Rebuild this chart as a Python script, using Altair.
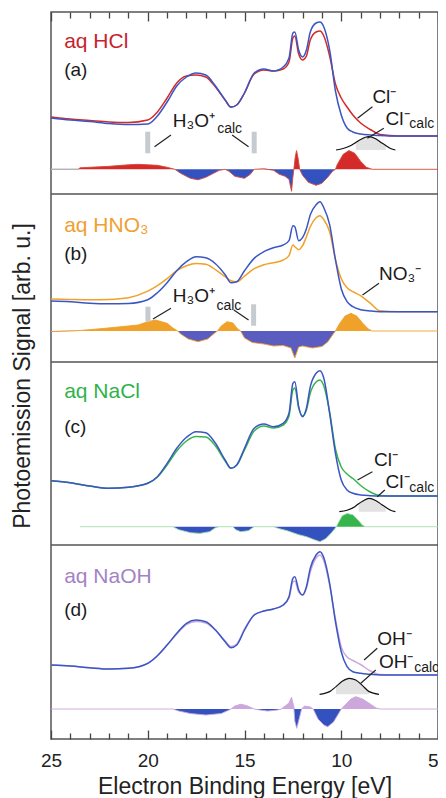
import altair as alt
import pandas as pd

# ---------------- data ----------------
E_GRID = [25, 24, 23, 22, 21, 20, 19.5, 19, 18.5, 18, 17.5, 17, 16.5, 16, 15.7,
          15.4, 15, 14.5, 14, 13.5, 13, 12.7, 12.5, 12.4, 12.2, 12.0, 11.8, 11.6,
          11.3, 11.1, 10.9, 10.6, 10.3, 10.0, 9.7, 9.4, 9.0, 8.5, 8.0, 7.0, 5.0]

WATER_A = [18, 16, 14.5, 12.5, 11.5, 12, 20, 34, 50, 59, 63, 61, 50, 36, 28.7, 31, 43, 63, 67, 65,
           69, 78, 103, 104, 86, 79, 86, 104, 113, 114, 109, 86, 45, 21, 8, 4, 2, 1, 0.5, 0, 0]
HCL = [19, 17, 15.5, 14, 13.5, 16, 24, 38, 53, 60, 61, 59, 49, 36, 29, 31, 43, 62, 66, 65,
       67, 74, 98, 100, 82, 76, 80, 96, 104, 105, 100, 80, 52, 38, 29, 21, 13, 6.5, 1.5, 0, 0]
WATER_B = [10.7, 10, 8.5, 8, 8.3, 12, 19, 29, 41, 50, 55, 54, 48, 37, 29, 30, 41, 53.3, 60, 64,
           66.7, 71, 86, 85, 71, 74, 83, 97, 107, 110, 104, 87, 52, 23, 10, 5, 2, 0.7, 0, 0, 0]
HNO3 = [12.7, 12.3, 12, 12.3, 14, 20.5, 26, 33, 41, 46, 48.3, 47.5, 42, 35, 31, 30, 35.5, 43, 47, 49,
        51.7, 56, 66.7, 65, 62, 66, 75, 85, 94, 96, 92, 80, 52, 33, 24, 20, 16, 8.5, 1, 0, 0]
WATER_C = [15.3, 13.3, 10, 7.7, 8.7, 12.7, 19.3, 32.7, 47.7, 58.7, 64.3, 63.3, 52.7, 36, 27.7, 31, 47.7, 67.7, 72, 69.3,
           72.7, 82.7, 112.7, 114.3, 89.3, 79.3, 87.7, 109.3, 122.7, 125.3, 117.7, 82.7, 42.7, 16, 6, 2.7, 1, 0.3, 0, 0, 0]
NACL = [15.3, 13.3, 10, 7.7, 8.7, 12.7, 19, 31, 45, 55, 59.5, 59, 50, 35, 27.7, 31, 46, 65, 70, 68,
        71, 80, 106, 108, 88, 80, 86, 103, 114, 116, 110, 84, 47, 29, 22, 17.5, 10.5, 4, 0.5, 0, 0]
WATER_D = [10, 9, 7.3, 6, 6.7, 11.7, 19.3, 30, 41.7, 51.7, 55, 53.3, 45, 33.3, 27.3, 30, 45, 60, 64, 66,
           70, 78.3, 96.7, 98.3, 85, 80, 88.3, 106.7, 120, 123.3, 117.3, 91.7, 53.3, 23.3, 8.3, 3.3, 1.7, 0.7, 0, 0, 0]
NAOH = [10, 9, 7.3, 6, 6.7, 11.7, 19.3, 30, 41, 50.5, 53.5, 52, 45, 34, 28.5, 31, 46, 60, 64, 66,
        70, 77, 93, 94, 83, 80, 87, 103, 117, 120, 114, 90, 56, 28, 18, 14.5, 10.5, 4, 0.5, 0, 0]

# difference spectra (solution minus water)
DIFF_A_E = [23.6, 23.5, 22, 21, 20.5, 19.5, 19.0, 18.6, 18.3, 17.8, 17.4, 17.0, 16.6, 16.3, 16.0, 15.8,
            15.5, 15.0, 14.7, 14.5, 14.0, 13.5, 13.2, 12.9, 12.7, 12.57, 12.5, 12.45, 12.38, 12.31, 12.22,
            12.15, 12.0, 11.7, 11.3, 11.0, 10.7, 10.45, 10.3, 10.2, 9.9, 9.6, 9.3, 9.0, 8.7, 8.4, 5]
DIFF_A = [0, 1.5, 3, 4.5, 5, 4, 2, 0, -4, -9, -10.5, -8, -4, -1, 0, -2,
          -7, -9, -5, 0, 0.5, -1, -5, -7, -10, -22, -8, 0, 12, 18.7, 10,
          0, -6, -13, -16, -14, -8, -2, 0, 5, 15, 18.7, 16, 8, 2, 0, 0]
DIFF_B_E = [25, 23.5, 22.2, 20.5, 20.0, 19.6, 19.0, 18.7, 18.45, 18.3, 17.9, 17.4, 16.9, 16.6, 16.4, 16.2,
            15.9, 15.6, 15.35, 15.2, 15.0, 14.6, 14.0, 13.5, 13.0, 12.6, 12.4, 12.2, 12.0, 11.5, 11.0,
            10.7, 10.45, 10.3, 10.1, 9.8, 9.5, 9.2, 8.9, 8.6, 8.4, 5]
DIFF_B = [-0.5, 0.5, 2.7, 6, 9.3, 11, 7.7, 3, 0, -3, -8, -10.7, -8, -3, 0, 5,
          9.3, 8, 2, 0, -7, -11.5, -13, -15, -14.5, -17, -27, -16, -15, -17, -15.5,
          -11, -4, 0, 7, 15, 17.7, 15, 8, 2, 0, 0]
DIFF_C_E = [23.5, 18.7, 18.4, 17.8, 17.3, 16.8, 16.5, 16.3, 15.6, 15.45, 15.2, 14.8, 14.5, 13.5, 13.2, 12.8,
            12.5, 12.2, 11.8, 11.4, 11.1, 10.8, 10.5, 10.25, 10.15, 9.95, 9.7, 9.4, 9.1, 8.9, 8.75, 5]
DIFF_C = [0, 0, -3, -6, -6.7, -5, -1, 0, 0, -3, -5, -4, 0, 0, -2, -4,
          -6, -8, -10, -13, -15, -12, -6, 0, 4, 11, 13.3, 12, 6, 1.5, 0, 0]
DIFF_D_E = [25, 18.7, 18.4, 17.8, 17.0, 16.2, 15.8, 15.7, 15.5, 15.2, 14.9, 14.5, 14.2, 13.8, 13.3, 13.1,
            12.9, 12.7, 12.57, 12.45, 12.4, 12.3, 12.15, 12.05, 11.9, 11.6, 11.45, 11.2, 10.9, 10.7, 10.4,
            10.15, 10.0, 9.8, 9.5, 9.25, 8.9, 8.5, 8.2, 8.0, 5]
DIFF_D = [0, 0, -2, -4.5, -6, -4.5, -1, 0, 3, 4.7, 3.5, 0, -1, -2, -1, 0,
          3, 6, 11.7, 2, -12, -19.3, -8, 0, 3, 2, 0, -10, -16, -17.7, -13,
          -5, 0, 4, 10, 12.3, 10, 5, 1, 0, 0]

# calculated anion peaks
CALC_A_E = [10.27, 9.9, 9.5, 9.25, 9.0, 8.6, 8.2, 7.9, 7.7, 7.45, 7.2]
CALC_A = [0, 1.5, 4.5, 7.5, 10.5, 13.3, 11, 7, 4.5, 1.5, 0]
CALC_C_E = [10.1, 9.7, 9.3, 9.1, 8.9, 8.56, 8.2, 7.9, 7.7, 7.45, 7.2]
CALC_C = [0, 1.5, 5, 8, 10.5, 13.4, 11, 7, 4.5, 1.5, 0]
CALC_D_E = [11.12, 10.6, 10.27, 9.93, 9.59, 9.25, 8.9, 8.56, 8.05]
CALC_D = [0, 2.7, 7.7, 13.3, 16, 14.3, 8.7, 2.7, 0]

MAJOR_TICKS = [25, 20, 15, 10, 5]
MINOR_TICKS = [e for e in range(6, 25) if e % 5]

# ---------------- layout / style ----------------
FONT = "Liberation Sans"
BLUE = "#3a56c5"
BLACK = "#1a1a1a"
PANELS = {
    "a": dict(base=603, dbase=569.7, sol=HCL, water=WATER_A, col="#d42a2a", tcol="#c8232c",
              neg="#3352c0", dline="#d64a3a", dE=DIFF_A_E, d=DIFF_A),
    "b": dict(base=427.3, dbase=408, sol=HNO3, water=WATER_B, col="#f0a12a", tcol="#f0a030",
              neg="#5a5cc0", dline="#f0a12a", dE=DIFF_B_E, d=DIFF_B),
    "c": dict(base=243, dbase=212.3, sol=NACL, water=WATER_C, col="#36b54c", tcol="#2fb34a",
              neg="#3352c0", dline="#a8dcae", dE=DIFF_C_E, d=DIFF_C),
    "d": dict(base=64, dbase=30, sol=NAOH, water=WATER_D, col="#cda7dc", tcol="#a582c4",
              neg="#3352c0", dline="#c8a6dc", dE=DIFF_D_E, d=DIFF_D),
}
SEPARATORS = [545, 377, 194]
CALC = {"a": (CALC_A_E, CALC_A, 589, 7.7, 9.25),
        "c": (CALC_C_E, CALC_C, 227.3, 7.7, 9.1),
        "d": (CALC_D_E, CALC_D, 44.7, 8.56, 10.27)}

rows_sol, rows_w, rows_d = [], [], []
for p, P in PANELS.items():
    for e, s, w in zip(E_GRID, P["sol"], P["water"]):
        rows_sol.append(dict(panel=p, E=e, Y=P["base"] + s, col=P["col"]))
        rows_w.append(dict(panel=p, E=e, Y=P["base"] + w))
    for e, d in zip(P["dE"], P["d"]):
        rows_d.append(dict(panel=p, E=e, Y=P["dbase"] + d, base=P["dbase"],
                           top=P["dbase"] + max(d, 0), bot=P["dbase"] + min(d, 0),
                           pcol=P["col"], ncol=P["neg"], lcol=P["dline"]))
sol_df = pd.DataFrame(rows_sol)
water_df = pd.DataFrame(rows_w)
diff_df = pd.DataFrame(rows_d)

rows_g = []
for p, (es, hs, gb, lo, hi) in CALC.items():
    for e, h in zip(es, hs):
        rows_g.append(dict(panel=p, E=e, Y=gb + h, base=gb, fill=bool(lo <= e <= hi)))
gauss_df = pd.DataFrame(rows_g)
gauss_fill_df = gauss_df[gauss_df["fill"]]

sep_df = pd.DataFrame({"Y": SEPARATORS})

SEG_E1 = [19.65, 15.64, 9.16, 8.65, 20.0, 14.5, 25.0,
          19.73, 15.55, 8.9, 19.99, 14.53,
          9.16, 8.14,
          8.82, 8.99]
SEG_Y1 = [592.3, 604, 620.7, 600.7, 607.3, 607.3, 569.7,
          420, 429, 444, 432.3, 434.7,
          259, 242.3,
          79, 55.7]
SEG_E2 = [18.80, 14.79, 8.39, 7.80, 20.0, 14.5, 23.6,
          18.8, 14.79, 8.05, 19.99, 14.53,
          8.39, 7.75,
          8.14, 8.22]
SEG_Y2 = [604, 592.3, 632.3, 610.7, 585.7, 585.7, 569.7,
          430.7, 419, 455.7, 417.3, 413.3,
          267.3, 249,
          90.7, 69]
SEG_KIND = ["lead", "lead", "lead", "lead", "bar", "bar", "base",
            "lead", "lead", "lead", "bar", "bar",
            "lead", "lead",
            "lead", "lead"]
SEG_STYLE = {"lead": ("#222222", 1.2), "bar": ("#c6cbcf", 5), "base": ("#b4b4b4", 1.5)}
seg_df = pd.DataFrame({"E1": SEG_E1, "Y1": SEG_Y1, "E2": SEG_E2, "Y2": SEG_Y2,
                       "col": [SEG_STYLE[k][0] for k in SEG_KIND],
                       "w": [SEG_STYLE[k][1] for k in SEG_KIND]})

TXT = ["aq HCl", "(a)", "aq HNO₃", "(b)", "aq NaCl", "(c)", "aq NaOH", "(d)",
       "H₃O⁺", "calc", "Cl⁻", "Cl⁻", "calc",
       "H₃O⁺", "calc", "NO₃⁻",
       "Cl⁻", "Cl⁻", "calc",
       "OH⁻", "OH⁻", "calc"]
TXT_E = [24.32, 24.32, 24.32, 24.32, 24.32, 24.32, 24.32, 24.32,
         18.71, 16.41, 8.39, 7.71, 6.48,
         18.71, 16.45, 8.05,
         8.31, 7.71, 6.48,
         8.14, 8.05, 6.23]
TXT_Y = [690.7, 663, 507.3, 479.5, 340.7, 306.5, 155.7, 123,
         612.3, 605.7, 635.7, 614, 610.7,
         437.3, 429, 459,
         273, 250.7, 247.3,
         94, 70.7, 67.3]
TXT_KIND = ["title", "tag"] * 4 + ["big", "sub", "big", "big", "sub",
                                   "big", "sub", "big", "big", "big", "sub",
                                   "big", "big", "sub"]
KIND_SIZE = {"title": 21, "tag": 19, "big": 19, "sub": 14}
TXT_COL = ([PANELS["a"]["tcol"], BLACK, PANELS["b"]["tcol"], BLACK,
            PANELS["c"]["tcol"], BLACK, PANELS["d"]["tcol"], BLACK]
           + [BLACK] * 14)
text_df = pd.DataFrame({"t": TXT, "E": TXT_E, "Y": TXT_Y,
                        "fs": [KIND_SIZE[k] for k in TXT_KIND], "col": TXT_COL})

# ---------------- scales & axes ----------------
xs = alt.Scale(domain=[5, 25], reverse=True, nice=False, zero=False)
ys = alt.Scale(domain=[0, 727], nice=False, zero=False)


def xaxis(orient, values, size, labels=False, title=None):
    kw = dict(orient=orient, values=values, tickSize={"expr": str(-size)},
              tickColor="#444444", tickWidth=1.3, domain=False, grid=False,
              labels=labels, title=title)
    if labels:
        kw.update(labelFontSize=19, labelFont=FONT, labelColor="#222222",
                  labelPadding=21, labelFlush=False, format="d",
                  labelAlign={"condition": {"test": "datum.value <= 5", "value": "right"},
                              "value": "center"})
    if title:
        kw.update(titleFontSize=23, titleFont=FONT, titleFontWeight="normal",
                  titleColor="#222222", titlePadding=5)
    return alt.Axis(**kw)


ax_bot_major = xaxis("bottom", MAJOR_TICKS, 9, labels=True, title="Electron Binding Energy [eV]")
ax_bot_minor = xaxis("bottom", MINOR_TICKS, 6)
ax_top_major = xaxis("top", MAJOR_TICKS, 9)
ax_top_minor = xaxis("top", MINOR_TICKS, 6)
Y_AXIS = alt.Axis(title="Photoemission Signal [arb. u.]", ticks=False, labels=False,
                  domain=False, grid=False, titleFontSize=23, titleFont=FONT,
                  titleFontWeight="normal", titleColor="#222222", titlePadding=17)


def X(axis=None, field="E"):
    return alt.X(f"{field}:Q", scale=xs, axis=axis)


def Y(field="Y"):
    return alt.Y(f"{field}:Q", scale=ys, axis=Y_AXIS)


gauss_fill = alt.Chart(gauss_fill_df).mark_area(color="#e2e2e2", interpolate="monotone").encode(
    x=X(), y=Y(), y2="base:Q", detail="panel:N")
gauss_line = alt.Chart(gauss_df).mark_line(color="#111111", strokeWidth=1.2, interpolate="monotone").encode(
    x=X(), y=Y(), detail="panel:N", order=alt.Order("E:Q", sort="descending"))

pos_area = alt.Chart(diff_df).mark_area(interpolate="linear").encode(
    x=X(ax_top_major), y=Y("top"), y2="base:Q",
    color=alt.Color("pcol:N", scale=None), detail="panel:N")
neg_area = alt.Chart(diff_df).mark_area(interpolate="linear").encode(
    x=X(ax_top_minor), y=Y("bot"), y2="base:Q",
    color=alt.Color("ncol:N", scale=None), detail="panel:N")
diff_line = alt.Chart(diff_df).mark_line(strokeWidth=0.9).encode(
    x=X(), y=Y(), color=alt.Color("lcol:N", scale=None), detail="panel:N")

sol_line = alt.Chart(sol_df).mark_line(strokeWidth=1.5, interpolate="monotone").encode(
    x=X(ax_bot_major), y=Y(), color=alt.Color("col:N", scale=None),
    detail="panel:N", order=alt.Order("E:Q", sort="descending"))
water_line = alt.Chart(water_df).mark_line(strokeWidth=1.5, interpolate="monotone", color=BLUE).encode(
    x=X(ax_bot_minor), y=Y(), detail="panel:N", order=alt.Order("E:Q", sort="descending"))

seps = alt.Chart(sep_df).mark_rule(color="#555555", strokeWidth=1.5).encode(y=Y())
segs = alt.Chart(seg_df).mark_rule().encode(
    x=X(field="E1"), x2="E2:Q", y=Y("Y1"), y2="Y2:Q",
    color=alt.Color("col:N", scale=None), strokeWidth=alt.StrokeWidth("w:Q", scale=None))
texts = alt.Chart(text_df).mark_text(align="left", baseline="alphabetic", font=FONT).encode(
    x=X(), y=Y(), text="t:N", size=alt.Size("fs:Q", scale=None),
    color=alt.Color("col:N", scale=None))

chart = alt.layer(
    gauss_fill, gauss_line, pos_area, neg_area, diff_line, sol_line, water_line, seps, segs, texts
).properties(
    width=387, height=727,
    autosize=alt.AutoSizeParams(type="none"),
    padding={"left": 43, "top": 4, "right": 0, "bottom": 64},
    background="white",
).resolve_axis(x="independent", y="shared").configure_view(stroke="#555555", strokeWidth=1.5)

chart.save("out.html", embed_options={"renderer": "svg", "actions": False})
